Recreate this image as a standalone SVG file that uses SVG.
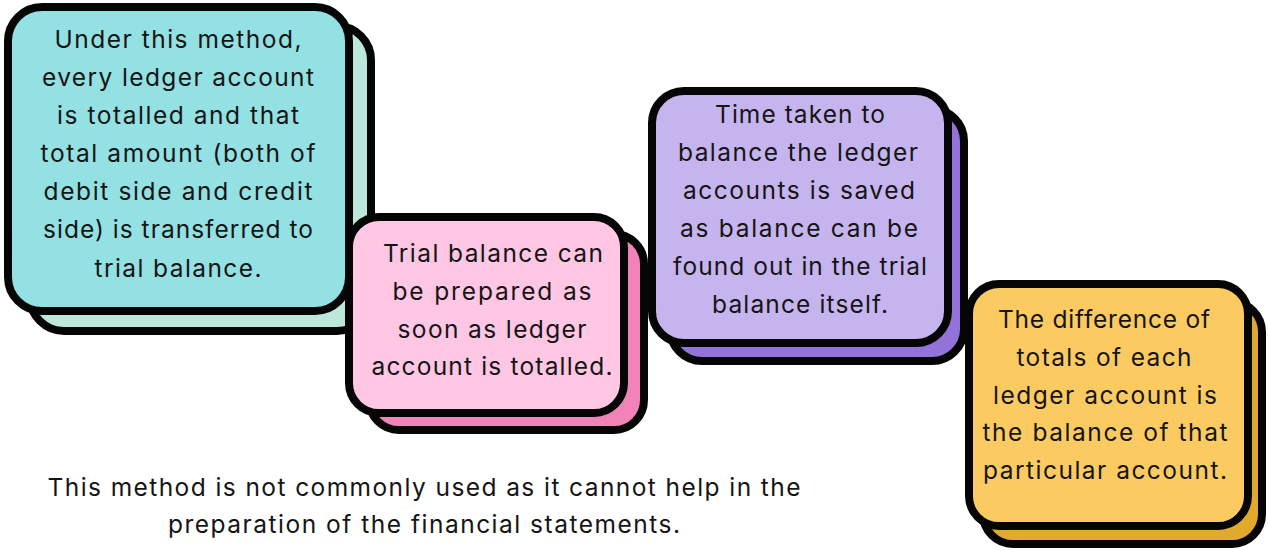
<svg xmlns="http://www.w3.org/2000/svg" width="1268" height="550" viewBox="0 0 1268 550">
  <style>
    .card { stroke: #050505; stroke-width: 8; }
    .t { font-family: Inter, "Noto Sans", "Liberation Sans", sans-serif; font-size: 24.5px; fill: #151515; text-anchor: middle; }
  </style>
  <rect width="1268" height="550" fill="#ffffff"/>

  <g id="node-1">
    <rect class="card" x="30" y="26" width="341" height="305" rx="34" fill="#BEE7DC"/>
    <rect class="card" x="8" y="7" width="341" height="304" rx="34" fill="#93E1E3"/>
    <text class="t" x="178" y="48" textLength="247" lengthAdjust="spacing">Under this method,</text>
    <text class="t" x="178" y="86" textLength="272" lengthAdjust="spacing">every ledger account</text>
    <text class="t" x="178" y="124" textLength="242" lengthAdjust="spacing">is totalled and that</text>
    <text class="t" x="178" y="162" textLength="275" lengthAdjust="spacing">total amount (both of</text>
    <text class="t" x="178" y="200" textLength="269" lengthAdjust="spacing">debit side and credit</text>
    <text class="t" x="178" y="238" textLength="270" lengthAdjust="spacing">side) is transferred to</text>
    <text class="t" x="178" y="277" textLength="167" lengthAdjust="spacing">trial balance.</text>
  </g>

  <g id="node-2">
    <rect class="card" x="369" y="234" width="275" height="196" rx="30" fill="#F283B8"/>
    <rect class="card" x="349" y="217" width="275" height="196" rx="30" fill="#FFC7E3"/>
    <text class="t" x="493" y="262" textLength="220" lengthAdjust="spacing">Trial balance can</text>
    <text class="t" x="492" y="300" textLength="199" lengthAdjust="spacing">be prepared as</text>
    <text class="t" x="492" y="338" textLength="189" lengthAdjust="spacing">soon as ledger</text>
    <text class="t" x="492" y="375" textLength="241" lengthAdjust="spacing">account is totalled.</text>
  </g>

  <g id="node-3">
    <rect class="card" x="670" y="109" width="294" height="252" rx="32" fill="#9373DA"/>
    <rect class="card" x="652" y="91" width="296" height="252" rx="32" fill="#C6B4EE"/>
    <text class="t" x="800" y="123" textLength="170" lengthAdjust="spacing">Time taken to</text>
    <text class="t" x="798" y="161" textLength="240" lengthAdjust="spacing">balance the ledger</text>
    <text class="t" x="799" y="199" textLength="232" lengthAdjust="spacing">accounts is saved</text>
    <text class="t" x="799" y="237" textLength="238" lengthAdjust="spacing">as balance can be</text>
    <text class="t" x="800" y="275" textLength="254" lengthAdjust="spacing">found out in the trial</text>
    <text class="t" x="800" y="313" textLength="176" lengthAdjust="spacing">balance itself.</text>
  </g>

  <g id="node-4">
    <rect class="card" x="983" y="302" width="279" height="242" rx="30" fill="#E1AA2C"/>
    <rect class="card" x="969" y="284" width="279" height="242" rx="30" fill="#FBCB62"/>
    <text class="t" x="1104" y="328" textLength="212" lengthAdjust="spacing">The difference of</text>
    <text class="t" x="1104" y="366" textLength="175" lengthAdjust="spacing">totals of each</text>
    <text class="t" x="1105" y="404" textLength="224" lengthAdjust="spacing">ledger account is</text>
    <text class="t" x="1105" y="441" textLength="245" lengthAdjust="spacing">the balance of that</text>
    <text class="t" x="1105" y="479" textLength="244" lengthAdjust="spacing">particular account.</text>
  </g>

  <g id="note">
    <text class="t" x="424" y="496" textLength="753" lengthAdjust="spacing">This method is not commonly used as it cannot help in the</text>
    <text class="t" x="424" y="533" textLength="512" lengthAdjust="spacing">preparation of the financial statements.</text>
  </g>
</svg>
